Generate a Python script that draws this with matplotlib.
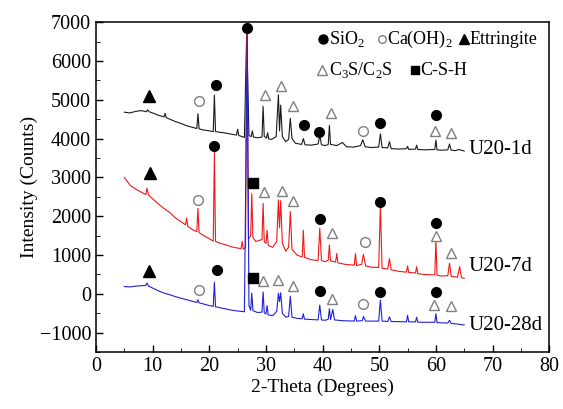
'''
XRD patterns of U20 paste at 1, 7 and 28 days with phase markers
'''
import matplotlib.pyplot as plt
import numpy as np

plt.rcParams['font.family'] = ['Liberation Serif', 'DejaVu Serif']
plt.rcParams['mathtext.fontset'] = 'custom'
plt.rcParams['mathtext.rm'] = 'Liberation Serif'

# (2-theta, counts), peaks as base/top/base
pts_1d = [(5, 4680), (6, 4660), (7, 4700), (8, 4720), (8.9, 4690), (9.1, 4740), (9.4, 4690), (10, 4660),
          (11, 4600), (12, 4560), (12.2, 4650), (12.4, 4540), (13, 4500), (14, 4440), (15, 4390),
          (16, 4330), (17, 4290), (17.8, 4260), (18.0, 4640), (18.2, 4250), (19, 4220), (20, 4200),
          (20.7, 4180), (20.9, 5120), (21.1, 4180), (22, 4160), (23, 4140), (24, 4110), (24.8, 4090),
          (25.0, 4240), (25.2, 4080), (26.2, 4030), (26.6, 6750), (27.0, 4080), (27.4, 4050),
          (27.6, 4200), (27.8, 4040), (28.5, 4020), (29.3, 4040), (29.5, 4830), (29.7, 4060),
          (30.1, 4010), (30.3, 4150), (30.5, 3990), (31, 3980), (31.8, 4050), (32.2, 5130),
          (32.4, 4200), (32.6, 4860), (32.9, 4050), (33.5, 3920), (34.0, 3980), (34.3, 4520),
          (34.6, 4000), (35.2, 3880), (36.3, 3850), (36.6, 4000), (36.9, 3840), (38, 3830),
          (39.2, 3860), (39.5, 4080), (39.8, 3840), (40.5, 3820), (41.0, 3850), (41.2, 4340),
          (41.4, 3850), (42.5, 3820), (43.5, 3900), (44.2, 3790), (45.5, 3780), (46.7, 3820),
          (47.1, 3970), (47.5, 3790), (48.5, 3770), (49.9, 3780), (50.2, 4120), (50.5, 3770),
          (51.5, 3760), (51.8, 3920), (52.1, 3740), (53.5, 3730), (54.8, 3740), (55.0, 3800),
          (55.2, 3720), (56.4, 3730), (56.6, 3830), (56.8, 3720), (58, 3710), (59.8, 3720),
          (60.0, 3960), (60.2, 3710), (61, 3700), (62.1, 3710), (62.4, 3860), (62.7, 3700),
          (63.5, 3690), (64, 3720), (65, 3680)]

pts_7d = [(5, 3000), (6, 2800), (7, 2700), (8, 2620), (8.8, 2560), (9.0, 2720), (9.3, 2540), (10, 2450),
          (11, 2320), (12, 2200), (13, 2100), (14, 1960), (15, 1860), (15.8, 1780), (16.0, 1950),
          (16.2, 1740), (17, 1660), (17.8, 1600), (18.0, 2200), (18.2, 1580), (19, 1500), (20, 1420),
          (20.7, 1360), (20.9, 3650), (21.1, 1350), (22, 1300), (23, 1260), (24, 1210), (25, 1180),
          (25.6, 1170), (25.8, 1350), (26.0, 1150), (26.4, 1200), (26.6, 6800), (26.9, 1400),
          (27.3, 1500), (27.5, 2580), (27.7, 1450), (28.2, 1350), (29.3, 1400), (29.5, 2330),
          (29.7, 1350), (30.0, 1300), (30.2, 1640), (30.4, 1250), (31.2, 1200), (31.9, 1350),
          (32.2, 2420), (32.4, 1700), (32.6, 2400), (32.9, 1300), (33.5, 1100), (34.0, 1200),
          (34.3, 2120), (34.6, 1150), (35.5, 1000), (36.4, 950), (36.6, 1640), (36.8, 940),
          (38, 880), (39.2, 860), (39.5, 1690), (39.8, 860), (40.5, 830), (41.0, 870), (41.2, 1260),
          (41.4, 850), (42.3, 820), (42.5, 1040), (42.7, 800), (44, 760), (45.6, 740), (45.8, 1040),
          (46.0, 730), (46.9, 760), (47.2, 1020), (47.6, 720), (48.5, 690), (49.9, 680),
          (50.2, 2260), (50.5, 660), (51.5, 640), (51.8, 910), (52.1, 620), (53.5, 580),
          (54.8, 560), (55.0, 720), (55.2, 550), (56.4, 540), (56.6, 700), (56.8, 520), (58, 500),
          (59.8, 490), (60.0, 1380), (60.2, 480), (61, 460), (62.1, 470), (62.4, 790), (62.7, 450),
          (63.8, 430), (64.2, 700), (64.5, 420), (65, 400)]

pts_28d = [(5, 190), (6, 180), (7, 200), (8, 210), (8.8, 220), (9.0, 280), (9.3, 200), (10, 150),
           (11, 80), (12, 20), (13, -20), (14, -70), (15, -110), (16, -150), (17, -190), (17.8, -220),
           (18.0, -150), (18.2, -230), (19, -260), (20, -300), (20.7, -320), (20.9, 300),
           (21.1, -330), (22, -360), (23, -390), (24, -420), (25, -440), (26.2, -460), (26.7, 6700),
           (27.0, -300), (27.3, -420), (27.5, 20), (27.7, -430), (28.5, -480), (29.3, -470),
           (29.5, 50), (29.7, -480), (30.0, -520), (30.2, -300), (30.4, -540), (31.2, -560),
           (31.9, -450), (32.2, 20), (32.4, -200), (32.6, 30), (32.9, -500), (33.5, -600),
           (34.0, -580), (34.3, -60), (34.6, -600), (35.5, -630), (36.4, -640), (36.6, -510),
           (36.8, -650), (38, -660), (39.2, -670), (39.5, -290), (39.8, -670), (40.5, -680),
           (41.0, -650), (41.2, -380), (41.4, -660), (41.8, -400), (42.1, -670), (43.5, -690),
           (45.6, -700), (45.8, -560), (46.0, -700), (47.0, -690), (47.2, -580), (47.6, -700),
           (49.9, -700), (50.2, -160), (50.5, -700), (51.5, -710), (51.8, -590), (52.1, -710),
           (54.8, -720), (55.0, -550), (55.2, -720), (56.4, -720), (56.6, -600), (56.8, -730),
           (59.8, -730), (60.0, -510), (60.2, -740), (62.1, -750), (62.4, -680), (62.7, -760),
           (64, -780), (65, -800)]

# phase markers: (2-theta, counts) per phase
sio2 = [(26.6, 6840), (21.1, 5390), (36.7, 4360), (39.3, 4170), (50.2, 4400), (60.0, 4610),
        (20.8, 3820), (39.5, 1920), (50.2, 2360), (60.0, 1820),
        (21.3, 610), (39.5, 70), (50.2, 50), (60.0, 50)]
ch = [(18.2, 4960), (47.2, 4200), (18.0, 2420), (47.4, 1340), (18.2, 90), (47.2, -270)]
ettringite = [(9.4, 5090), (9.5, 3110), (9.4, 590)]
c3s_c2s = [(29.8, 5130), (32.6, 5360), (34.8, 4850), (41.5, 4660), (59.9, 4200), (62.6, 4140),
           (29.6, 2630), (32.8, 2660), (34.7, 2380), (41.6, 1560), (60.0, 1500), (62.6, 1060),
           (29.5, 330), (32.2, 370), (34.8, 200), (41.6, -120), (59.7, -290), (62.6, -320)]
csh = [(27.8, 2850), (27.8, 410)]

series = [('U20-1d', pts_1d, '#1a1a1a', 3710),
          ('U20-7d', pts_7d, '#f01818', 700),
          ('U20-28d', pts_28d, '#2020d8', -810)]

fig = plt.figure(figsize=(5.63, 4.09), dpi=100)
ax = fig.add_axes([0.1705, 0.139, 0.805, 0.807])

for name, pts, color, label_y in series:
    tt, counts = np.array(pts).T
    ax.plot(tt, counts, color=color, linewidth=0.8)
    ax.text(65.8, label_y, name, fontsize=15, va='center', ha='left')

gray = '#7f7f7f'
ax.plot(*np.array(sio2).T, 'o', color='k', markersize=7, linestyle='none')
ax.plot(*np.array(ch).T, 'o', markerfacecolor='white', markeredgecolor=gray, markersize=7,
        markeredgewidth=1.0, linestyle='none')
ax.plot(*np.array(ettringite).T, '^', color='k', markersize=8, linestyle='none')
ax.plot(*np.array(c3s_c2s).T, '^', markerfacecolor='white', markeredgecolor=gray, markersize=7,
        markeredgewidth=1.0, linestyle='none')
ax.plot(*np.array(csh).T, 's', color='k', markersize=6.5, linestyle='none')

# legend drawn inside the axes
leg_fs = 13
ax.plot([40.0], [6560], 'o', color='k', markersize=6.5)
ax.text(41.2, 6560, 'SiO$_2$', fontsize=leg_fs, va='center')
ax.plot([50.4], [6560], 'o', markerfacecolor='white', markeredgecolor=gray, markersize=5.5)
ax.text(51.4, 6560, 'Ca(OH)$_2$', fontsize=leg_fs, va='center')
ax.plot([65.0], [6560], '^', color='k', markersize=6.5)
ax.text(65.9, 6560, 'Ettringite', fontsize=leg_fs, va='center')
ax.plot([39.9], [5760], '^', markerfacecolor='white', markeredgecolor=gray, markersize=6.5)
ax.text(41.2, 5760, 'C$_3$S/C$_2$S', fontsize=leg_fs, va='center')
ax.plot([56.3], [5760], 's', color='k', markersize=5.5)
ax.text(57.3, 5760, 'C-S-H', fontsize=leg_fs, va='center')

ax.set_xlim(0, 80)
ax.set_ylim(-1500, 7000)
ax.set_xticks(np.arange(0, 81, 10))
ax.set_xticks(np.arange(5, 80, 10), minor=True)
ax.set_yticks(np.arange(-1000, 7001, 1000))
ax.set_yticks(np.arange(-1500, 7000, 1000), minor=True)
ax.tick_params(direction='in', labelsize=14.5, length=5, width=1)
ax.tick_params(which='minor', direction='in', length=3)
for s in ax.spines.values():
    s.set_linewidth(1.1)
ax.set_xlabel('2-Theta (Degrees)', fontsize=14, labelpad=2)
ax.set_ylabel('Intensity (Counts)', fontsize=14, labelpad=1)

plt.savefig('out.png', dpi=100)
